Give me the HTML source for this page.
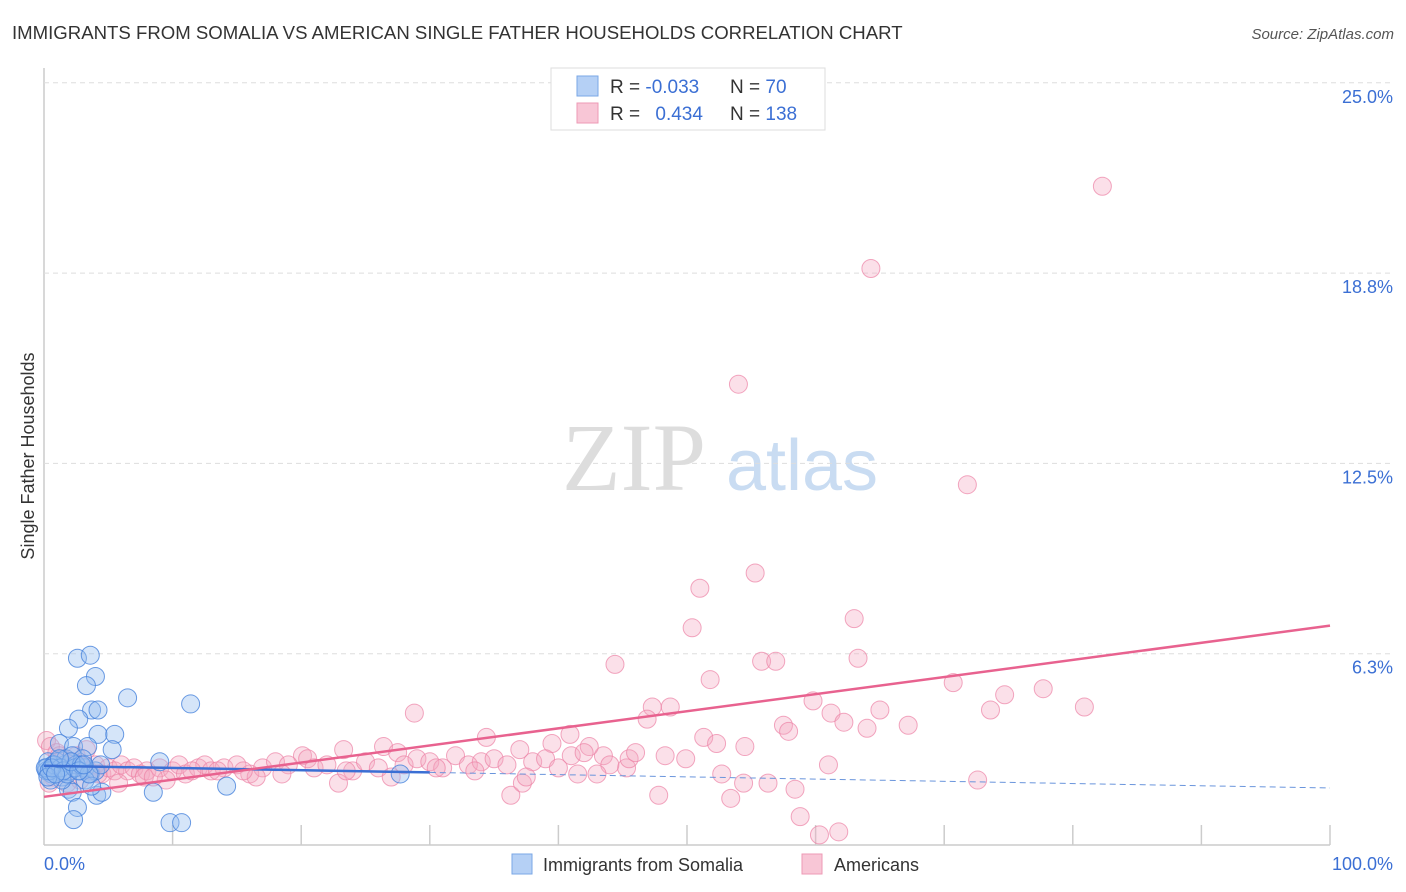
<!DOCTYPE html>
<html><head><meta charset="utf-8"><style>
body{margin:0;background:#fff;font-family:"Liberation Sans",sans-serif}
#c{position:absolute;left:0;top:0}
</style></head><body>
<svg id="c" width="1406" height="892">
<text x="12" y="39" font-size="18.6" fill="#333">IMMIGRANTS FROM SOMALIA VS AMERICAN SINGLE FATHER HOUSEHOLDS CORRELATION CHART</text>
<text x="1394" y="39" font-size="15" fill="#555" font-style="italic" text-anchor="end">Source: ZipAtlas.com</text>
<text x="34" y="456" font-size="18" fill="#333" text-anchor="middle" transform="rotate(-90 34 456)">Single Father Households</text>
<g><text x="634" y="490" font-size="96" font-family="Liberation Serif,serif" fill="#ddd" text-anchor="middle">ZIP</text><text x="802" y="490" font-size="72" fill="#c9dcf2" text-anchor="middle">atlas</text></g>
<g id="grid"></g><g id="pts"></g><g id="lines"></g>
<g>
<rect x="551" y="68" width="274" height="62" fill="#fff" stroke="#ddd"/>
<rect x="577" y="76" width="21" height="20" fill="#b5d0f5" stroke="#7aa7e6"/>
<rect x="577" y="103" width="21" height="20" fill="#f8c6d6" stroke="#ee9ab5"/>
<text x="610" y="93" font-size="19" fill="#333">R = <tspan fill="#3b6fd4">-0.033</tspan></text>
<text x="730" y="93" font-size="19" fill="#333">N = <tspan fill="#3b6fd4"> 70</tspan></text>
<text x="610" y="120" font-size="19" fill="#333">R = <tspan fill="#3b6fd4" dx="10">0.434</tspan></text>
<text x="730" y="120" font-size="19" fill="#333">N = <tspan fill="#3b6fd4">138</tspan></text>
</g>
<text x="44" y="870" font-size="18" fill="#3b6fd4">0.0%</text>
<text x="1393" y="870" font-size="18" fill="#3b6fd4" text-anchor="end">100.0%</text>
<g>
<rect x="512" y="854" width="20" height="20" fill="#b5d0f5" stroke="#7aa7e6"/>
<text x="543" y="871" font-size="18" fill="#333">Immigrants from Somalia</text>
<rect x="802" y="854" width="20" height="20" fill="#f8c6d6" stroke="#ee9ab5"/>
<text x="834" y="871" font-size="18" fill="#333">Americans</text>
</g>
</svg>
<script>
const yTicks=[25,18.75,12.5,6.25];
const yTickLabels=["25.0%","18.8%","12.5%","6.3%"];
const xTicks=[10,20,30,40,50,60,70,80,90,100];
const blueX=[2.6,3.6,4.0,3.3,6.5,11.4,3.7,4.2,2.7,1.9,4.2,5.5,1.2,2.3,3.4,5.3,9.0,0.5,0.9,1.2,1.6,0.3,0.2,0.6,1.1,1.4,2.0,2.8,3.2,3.6,4.0,4.4,1.9,2.2,4.1,4.5,8.5,14.2,2.6,2.3,9.8,10.7,27.7,0.2,0.7,1.0,1.7,2.2,3.0,1.4,3.2,3.7,0.5,2.5,0.1,0.4,0.8,1.3,1.8,2.4,2.9,3.5,0.3,0.6,1.5,2.1,2.7,3.1,0.9,1.2];
const blueY=[6.1,6.2,5.5,5.2,4.8,4.6,4.4,4.4,4.1,3.8,3.6,3.6,3.3,3.2,3.2,3.1,2.7,2.4,2.5,2.5,2.6,2.7,2.4,2.3,2.4,2.2,2.4,2.4,2.5,2.3,2.4,2.6,1.8,1.7,1.6,1.7,1.7,1.9,1.2,0.8,0.7,0.7,2.3,2.5,2.6,2.7,2.8,2.9,2.8,2.1,2.1,1.9,2.1,2.6,2.5,2.4,2.6,2.5,2.3,2.5,2.6,2.3,2.2,2.5,2.4,2.7,2.4,2.6,2.3,2.8];
const pinkX=[82.3,64.3,54.0,71.8,55.3,51.0,63.0,50.4,44.4,55.8,56.9,63.3,51.8,70.7,77.7,74.7,59.8,47.3,48.7,80.9,28.8,65.0,73.6,61.2,46.9,62.2,67.2,57.5,64.0,57.9,51.3,34.4,40.9,52.3,54.5,39.5,37.0,26.4,23.3,27.5,20.1,48.3,49.9,52.7,61.0,72.6,54.4,56.3,47.8,53.4,58.4,58.8,60.3,61.8,36.3,37.2,22.9,45.3,43.5,42.4,0.2,0.5,1.0,1.5,2.0,2.5,3.0,3.5,4.0,4.5,5.0,5.5,6.0,6.5,7.0,7.5,8.0,9.0,10.0,10.5,11.0,12.0,12.5,13.0,14.0,15.0,16.0,17.0,18.0,19.0,20.5,21.0,22.0,24.0,25.0,26.0,28.0,29.0,30.0,31.0,32.0,33.0,34.0,35.0,36.0,38.0,39.0,40.0,41.0,42.0,44.0,45.5,46.0,1.2,2.2,3.3,0.7,1.8,2.8,4.2,5.8,7.8,9.5,13.5,16.5,18.5,23.5,27.0,30.5,33.5,37.5,41.5,43.0,15.5,11.5,8.5,0.4];
const pinkY=[21.6,18.9,15.1,11.8,8.9,8.4,7.4,7.1,5.9,6.0,6.0,6.1,5.4,5.3,5.1,4.9,4.7,4.5,4.5,4.5,4.3,4.4,4.4,4.3,4.1,4.0,3.9,3.9,3.8,3.7,3.5,3.5,3.6,3.3,3.2,3.3,3.1,3.2,3.1,3.0,2.9,2.9,2.8,2.3,2.6,2.1,2.0,2.0,1.6,1.5,1.8,0.9,0.3,0.4,1.6,2.0,2.0,2.5,2.9,3.2,3.4,3.2,3.0,2.8,2.6,2.9,2.5,2.4,2.6,2.3,2.5,2.4,2.6,2.4,2.5,2.3,2.4,2.5,2.4,2.6,2.3,2.5,2.6,2.4,2.5,2.6,2.3,2.5,2.7,2.6,2.8,2.5,2.6,2.4,2.7,2.5,2.6,2.8,2.7,2.5,2.9,2.6,2.7,2.8,2.6,2.7,2.8,2.5,2.9,3.0,2.6,2.8,3.0,2.9,2.7,3.1,2.2,2.0,2.1,2.3,2.0,2.2,2.1,2.4,2.2,2.3,2.4,2.2,2.5,2.4,2.2,2.3,2.3,2.4,2.4,2.2,2.0,2.1,2.4];
const trendBlue=[2.57,1.84];
const trendPink=[1.55,7.17];
const X0=44,X1=1330,Y0=844,PY=30.45;
const sx=v=>X0+(X1-X0)*v/100, sy=v=>Y0-v*PY;
const NS="http://www.w3.org/2000/svg";
function mk(t,a,p){const e=document.createElementNS(NS,t);for(const k in a)e.setAttribute(k,a[k]);p.appendChild(e);return e;}
const g=document.getElementById('grid');
mk('line',{x1:44,y1:68,x2:44,y2:845,stroke:'#ccc','stroke-width':1.5},g);
mk('line',{x1:44,y1:845,x2:1330,y2:845,stroke:'#ccc','stroke-width':1.5},g);
yTicks.forEach((t,i)=>{
 const l=mk('line',{x1:44,y1:sy(t),x2:1393,y2:sy(t),stroke:'#ddd','stroke-dasharray':'5,4'},g);
 
 
 const tx=mk('text',{x:1393,y:sy(t)+20,'font-size':18,fill:'#3b6fd4','text-anchor':'end'},g);
 tx.textContent=yTickLabels[i];
 
 
});
xTicks.forEach(t=>{
 const l=mk('line',{x1:sx(t),y1:825,x2:sx(t),y2:845,stroke:'#ccc','stroke-width':1.5},g);
 
 
});
const p=document.getElementById('pts');
pinkX.forEach((x,i)=>{
 const c=mk('circle',{cx:sx(x),cy:sy(pinkY[i]),r:9,fill:'rgba(244,165,192,0.35)',stroke:'rgba(236,130,165,0.7)','stroke-width':1},p);
 
 
});
blueX.forEach((x,i)=>{
 const c=mk('circle',{cx:sx(x),cy:sy(blueY[i]),r:9,fill:'rgba(150,190,240,0.4)',stroke:'rgba(70,130,220,0.8)','stroke-width':1},p);
 
 
});
const L=document.getElementById('lines');
const by=x=>trendBlue[0]+(trendBlue[1]-trendBlue[0])*x/100;
const b1=mk('line',{x1:sx(0),y1:sy(by(0)),x2:sx(30),y2:sy(by(30)),stroke:'#3b6fd4','stroke-width':2.5},L);


const b2=mk('line',{x1:sx(30),y1:sy(by(30)),x2:sx(100),y2:sy(by(100)),stroke:'#6a95dc','stroke-width':1,'stroke-dasharray':'6,4'},L);


const pl=mk('line',{x1:sx(0),y1:sy(trendPink[0]),x2:sx(100),y2:sy(trendPink[1]),stroke:'#e8628f','stroke-width':2.5},L);


</script>
</body></html>
